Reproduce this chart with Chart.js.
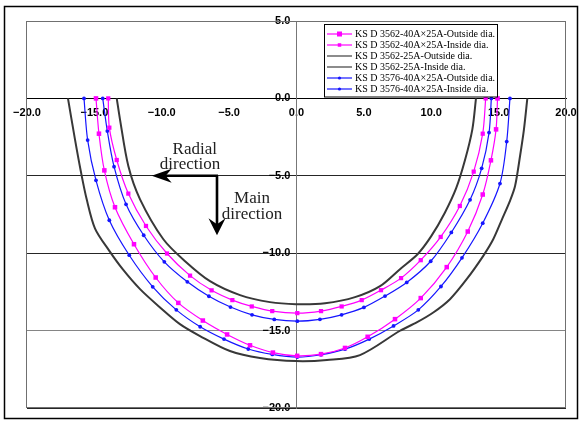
<!DOCTYPE html>
<html><head><meta charset="utf-8">
<script src="https://cdn.jsdelivr.net/npm/chart.js@4.4.1/dist/chart.umd.min.js"></script>
<style>
html,body{margin:0;padding:0;background:#fff;}
#wrap{position:relative;width:580px;height:421px;}
</style></head><body>
<div id="wrap"><canvas id="c" width="580" height="421"></canvas></div>
<script>
// ---- data ----
const seriesLabels = [
  'KS D 3562-40A\u00d725A-Outside dia.',
  'KS D 3562-40A\u00d725A-Inside dia.',
  'KS D 3562-25A-Outside dia.',
  'KS D 3562-25A-Inside dia.',
  'KS D 3576-40A\u00d725A-Outside dia.',
  'KS D 3576-40A\u00d725A-Inside dia.'
];
// KS D 3562-40Ax25A outside
const moX = [-14.88,-14.66,-14.26,-13.47,-12.06,-10.45,-8.77,-6.95,-5.15,-3.45,-1.75,0.05,1.82,3.60,5.28,7.31,9.22,11.15,12.71,13.82,14.43,14.81,14.92];
const moY = [0,-2.28,-4.65,-7.03,-9.42,-11.57,-13.21,-14.35,-15.25,-15.95,-16.42,-16.63,-16.52,-16.12,-15.40,-14.26,-12.90,-10.90,-8.60,-6.21,-4.00,-2.00,0];
// KS D 3562-40Ax25A inside
const miX = [-13.97,-13.89,-13.34,-12.48,-11.17,-9.61,-7.90,-6.30,-4.76,-3.32,-1.80,0.06,1.82,3.35,4.84,6.27,7.76,9.22,10.70,12.12,13.15,13.82,14.04];
const miY = [0,-1.89,-3.98,-6.15,-8.24,-10.02,-11.45,-12.40,-13.03,-13.44,-13.74,-13.87,-13.74,-13.44,-13.03,-12.39,-11.61,-10.45,-8.95,-6.95,-4.73,-2.28,0];
// KS D 3562-25A outside
const koX = [-16.96,-16.44,-16.01,-15.57,-14.95,-13.89,-12.90,-11.61,-10.13,-8.65,-7.16,-4.94,-2.71,-0.04,2.26,4.71,7.68,8.92,10.15,11.39,12.63,13.86,14.60,15.25,15.85,16.22,16.59,16.88,17.13];
const koY = [0,-2.65,-4.69,-6.52,-8.41,-9.85,-11.03,-12.32,-13.50,-14.58,-15.35,-16.32,-16.77,-16.97,-16.90,-16.58,-15.01,-14.47,-13.83,-12.97,-11.68,-10.17,-9.10,-7.81,-6.60,-5.66,-3.72,-2.00,0];
// KS D 3562-25A inside
const kiX = [-13.34,-13.10,-12.48,-11.61,-9.88,-8.27,-6.42,-4.19,-1.97,-0.04,2.12,4.34,6.20,7.68,9.00,10.00,11.00,11.85,12.50,13.05,13.32];
const kiY = [0,-1.35,-4.37,-6.52,-9.10,-10.52,-11.81,-12.71,-13.16,-13.29,-13.23,-12.84,-12.13,-11.03,-10.05,-8.90,-7.40,-5.80,-4.00,-2.00,0];
// KS D 3576-40Ax25A outside
const boX = [-15.77,-15.50,-14.88,-13.89,-12.41,-10.67,-8.92,-7.15,-5.38,-3.58,-1.80,0.06,1.82,3.60,5.40,7.20,9.04,10.72,12.28,13.82,15.10,15.60,15.84];
const boY = [0,-2.69,-5.29,-7.87,-10.13,-12.17,-13.66,-14.75,-15.55,-16.19,-16.54,-16.71,-16.56,-16.20,-15.55,-14.70,-13.66,-12.15,-10.30,-8.06,-5.50,-2.79,0];
// KS D 3576-40Ax25A inside
const biX = [-14.38,-14.04,-13.54,-12.65,-11.34,-9.81,-8.10,-6.50,-4.90,-3.30,-1.65,0.06,1.74,3.35,5.00,6.57,8.18,9.96,11.49,12.88,13.74,14.29,14.46];
const biY = [0,-2.11,-4.41,-6.84,-8.84,-10.56,-11.85,-12.78,-13.48,-13.98,-14.28,-14.39,-14.27,-13.98,-13.50,-12.77,-11.89,-10.52,-8.66,-6.55,-4.52,-2.21,0];

const xTicks = [-20,-15,-10,-5,0,5,10,15,20];
const yTicks = [5,0,-5,-10,-15,-20];
const noteRadial = ['Radial','direction'];
const noteMain = ['Main','direction'];

// ---- build ----
const pts = (xs, ys) => xs.map((x, i) => ({x: x, y: ys[i]}));
const fmt = v => (v < 0 ? '\u2212' : '') + Math.abs(v).toFixed(1);

const MAG = '#ff00ff', BLU = '#1515ff', BLK = '#383838';
const styles = [
  {c: MAG, w: 1.2, ps: 'rect', r: 3.2},
  {c: MAG, w: 1.2, ps: 'rect', r: 3.0},
  {c: BLK, w: 2, ps: false, r: 0},
  {c: BLK, w: 2, ps: false, r: 0},
  {c: BLU, w: 1.2, ps: 'circle', r: 1.9},
  {c: BLU, w: 1.2, ps: 'circle', r: 1.9}
];
const series = [pts(moX, moY), pts(miX, miY), pts(koX, koY), pts(kiX, kiY), pts(boX, boY), pts(biX, biY)];

const datasets = series.map((d, i) => ({
  label: seriesLabels[i],
  data: d,
  showLine: true,
  borderColor: styles[i].c,
  backgroundColor: styles[i].c,
  borderWidth: styles[i].w,
  pointStyle: styles[i].ps || 'circle',
  pointRadius: styles[i].r,
  pointBorderWidth: 0,
  pointBackgroundColor: styles[i].c,
  tension: 0.3
}));

const framePlugin = {
  id: 'frame',
  beforeDraw(chart) {
    const ctx = chart.ctx;
    ctx.save();
    ctx.fillStyle = '#fff';
    ctx.fillRect(0, 0, chart.width, chart.height);
    ctx.restore();
  },
  afterDraw(chart) {
    const ctx = chart.ctx, a = chart.chartArea;
    const xs = chart.scales.x, ys = chart.scales.y;
    ctx.save();
    // plot border
    ctx.strokeStyle = '#707070';
    ctx.lineWidth = 1;
    ctx.strokeRect(Math.round(a.left) - 0.5, Math.round(a.top) + 0.5, Math.round(a.right - a.left), Math.round(a.bottom - a.top) - 1);
    // outer frame
    ctx.strokeStyle = '#000';
    ctx.lineWidth = 1.5;
    ctx.strokeRect(4.5, 6.5, 573, 412);

    // arrows (anchored in data coords)
    const cx = xs.getPixelForValue(-5.9), cy = ys.getPixelForValue(-5);
    const hx = xs.getPixelForValue(-10.6), vy = ys.getPixelForValue(-8.84);
    ctx.strokeStyle = '#000';
    ctx.fillStyle = '#000';
    ctx.lineWidth = 2.6;
    ctx.beginPath();
    ctx.moveTo(hx + 10, cy); ctx.lineTo(cx + 1, cy);
    ctx.moveTo(cx, cy); ctx.lineTo(cx, vy - 10);
    ctx.stroke();
    // left head
    ctx.beginPath();
    ctx.moveTo(hx - 2, cy);
    ctx.lineTo(hx + 18, cy - 7);
    ctx.lineTo(hx + 12, cy);
    ctx.lineTo(hx + 18, cy + 7);
    ctx.closePath(); ctx.fill();
    // down head
    ctx.beginPath();
    ctx.moveTo(cx, vy);
    ctx.lineTo(cx - 8.5, vy - 17);
    ctx.lineTo(cx, vy - 11);
    ctx.lineTo(cx + 8.5, vy - 17);
    ctx.closePath(); ctx.fill();

    // notes
    ctx.fillStyle = '#222';
    ctx.font = '17px "Liberation Serif", "DejaVu Serif", serif';
    ctx.textAlign = 'center';
    ctx.textBaseline = 'middle';
    ctx.fillText(noteRadial[0], xs.getPixelForValue(-7.55), ys.getPixelForValue(-3.3));
    ctx.fillText(noteRadial[1], xs.getPixelForValue(-7.9), ys.getPixelForValue(-4.27));
    ctx.fillText(noteMain[0], xs.getPixelForValue(-3.3), ys.getPixelForValue(-6.45));
    ctx.fillText(noteMain[1], xs.getPixelForValue(-3.3), ys.getPixelForValue(-7.47));

    // legend
    const L = 324.5, T = 24.5, W = 173, H = 72.5;
    ctx.fillStyle = '#fff';
    ctx.fillRect(L, T, W, H);
    ctx.strokeStyle = '#000';
    ctx.lineWidth = 1;
    ctx.strokeRect(L, T, W, H);
    ctx.font = '10px "Liberation Serif", "DejaVu Serif", serif';
    ctx.textAlign = 'left';
    ctx.textBaseline = 'middle';
    chart.data.datasets.forEach((ds, i) => {
      const y = 34 + i * 11;
      const st = styles[i];
      ctx.strokeStyle = st.c === BLK ? '#666' : st.c;
      ctx.lineWidth = st.c === BLK ? 1.5 : 1.2;
      ctx.beginPath(); ctx.moveTo(327, y); ctx.lineTo(352, y); ctx.stroke();
      ctx.fillStyle = st.c;
      if (st.ps === 'rect') {
        const s = i === 0 ? 5 : 3.5;
        ctx.fillRect(339.5 - s / 2, y - s / 2, s, s);
      } else if (st.ps === 'circle') {
        ctx.beginPath(); ctx.arc(339.5, y, 1.6, 0, Math.PI * 2); ctx.fill();
      }
      ctx.fillStyle = '#000';
      ctx.fillText(ds.label, 355, y);
    });
    ctx.restore();
  }
};

const xTickFont = {family: '"Liberation Sans", Arial, sans-serif', weight: 'bold', size: 11, lineHeight: 2.1};
const yTickFont = {family: '"Liberation Sans", Arial, sans-serif', weight: 'bold', size: 11};

new Chart(document.getElementById('c'), {
  type: 'scatter',
  data: {datasets: datasets},
  options: {
    responsive: false,
    animation: false,
    devicePixelRatio: 1,
    layout: {padding: {left: 27, right: 14, top: 21, bottom: 13}},
    plugins: {legend: {display: false}, tooltip: {enabled: false}},
    scales: {
      x: {
        type: 'linear', min: -20, max: 20,
        position: {y: 0},
        afterBuildTicks: s => { s.ticks = xTicks.map(v => ({value: v})); },
        ticks: {callback: v => fmt(v), font: xTickFont, color: '#000', maxRotation: 0, autoSkip: false, padding: 3},
        grid: {display: false, drawTicks: false},
        border: {display: true, color: '#000', width: 1}
      },
      y: {
        type: 'linear', min: -20, max: 5,
        position: {x: 0},
        afterBuildTicks: s => { s.ticks = yTicks.map(v => ({value: v})); },
        ticks: {callback: v => fmt(v) + '  ', font: yTickFont, color: '#000', autoSkip: false, padding: 4},
        grid: {display: true, drawTicks: false, lineWidth: 1,
               color: c => (c.tick && c.tick.value === -15) ? '#858585' : '#262626'},
        border: {display: true, color: '#777', width: 1}
      }
    }
  },
  plugins: [framePlugin]
});
</script>
</body></html>
